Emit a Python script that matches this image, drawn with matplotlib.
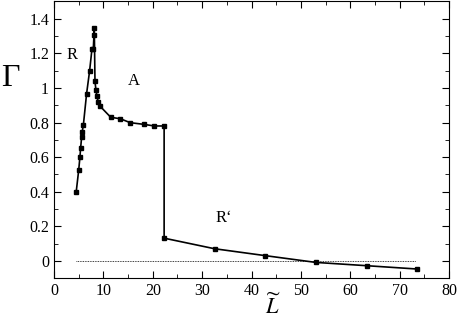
import matplotlib
matplotlib.use("Agg")
import matplotlib.pyplot as plt
from matplotlib.ticker import MultipleLocator

plt.rcParams['font.family'] = ['Liberation Serif', 'DejaVu Serif']
plt.rcParams['mathtext.fontset'] = 'stix'

# donnees
L = [4.5, 5.0, 5.26, 5.4, 5.6, 5.7, 5.94, 6.6, 7.22, 7.69, 7.96, 8.1, 8.16,
     8.3, 8.5, 8.7, 8.97, 9.3, 11.5, 13.4, 15.45, 18.3, 20.3, 22.3,
     22.3, 32.5, 42.8, 53.0, 63.3, 73.4]
gamma = [0.40, 0.524, 0.603, 0.655, 0.716, 0.745, 0.783, 0.966, 1.10, 1.225, 1.225, 1.308, 1.346,
         1.037, 0.987, 0.952, 0.916, 0.895, 0.83, 0.822, 0.799, 0.789, 0.78, 0.78,
         0.132, 0.071, 0.031, -0.008, -0.027, -0.046]
zero_x = [4.45, 73.2]
zero_y = [0, 0]

fig = plt.figure(figsize=(4.63, 3.29), dpi=100)
ax = fig.add_axes([0.1166, 0.154, 0.8534, 0.842])

ax.plot(zero_x, zero_y, color='black', linestyle=(0, (1, 1)), linewidth=0.6)
ax.plot(L, gamma, color='black', marker='s', markersize=3.2, linewidth=1.2)

ax.set_xlim(0, 80)
ax.set_ylim(-0.1, 1.5)
ax.xaxis.set_major_locator(MultipleLocator(10))
ax.xaxis.set_minor_locator(MultipleLocator(5))
ax.yaxis.set_minor_locator(MultipleLocator(0.1))
ax.set_yticks([0, 0.2, 0.4, 0.6, 0.8, 1.0, 1.2, 1.4])
ax.set_yticklabels(['0', '0.2', '0.4', '0.6', '0.8', '1', '1.2', '1.4'])
ax.tick_params(which='both', direction='in', top=True, right=True, labelsize=11.5)
ax.tick_params(which='major', length=5)
ax.tick_params(which='minor', length=3)

ax.text(3.6, 1.19, 'R', fontsize=12, ha='center', va='center')
ax.text(16.2, 1.04, 'A', fontsize=12, ha='center', va='center')
ax.text(34.4, 0.25, 'R\u2018', fontsize=12, ha='center', va='center')

fig.text(10 / 463, 1 - 79 / 329, '\u0393', fontsize=23, ha='center', va='center')
fig.text(273 / 463, 1 - 306 / 329, r'$\widetilde{L}$', fontsize=16, ha='center', va='center')

fig.savefig('out.png', dpi=100)
